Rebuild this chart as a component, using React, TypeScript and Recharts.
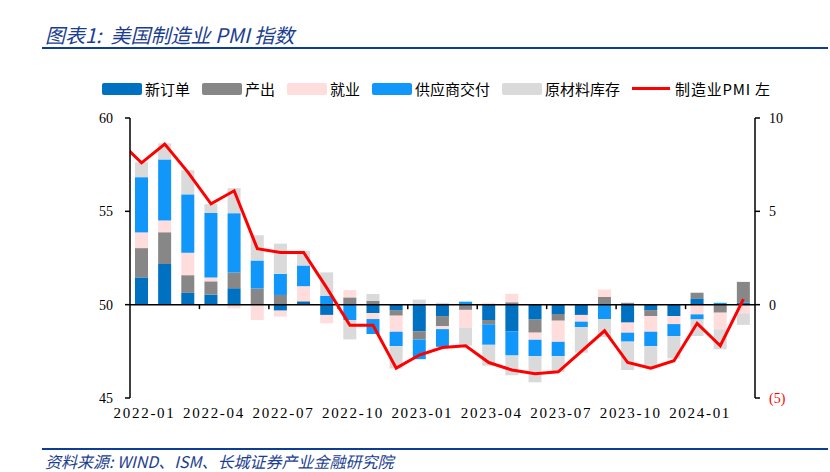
import { Bar, ComposedChart, Line, ReferenceLine, XAxis, YAxis } from "recharts"

// ISM 制造业PMI及分项贡献（分项拉动，右轴；PMI，左轴）
const months = [
  "2022-01", "2022-02", "2022-03", "2022-04", "2022-05", "2022-06",
  "2022-07", "2022-08", "2022-09", "2022-10", "2022-11", "2022-12",
  "2023-01", "2023-02", "2023-03", "2023-04", "2023-05", "2023-06",
  "2023-07", "2023-08", "2023-09", "2023-10", "2023-11", "2023-12",
  "2024-01", "2024-02", "2024-03",
]
// 折线在图左缘从上月接入
const prevMonth = "2021-12"
const prevPmi = 58.8

const newOrders = [
  1.46, 2.18, 0.63, 0.54, 0.88, 0, -0.32, 0.15, -0.55,
  0, -0.45, -0.29, -1.42, -0.61, -0.05, -0.82, -1.42, -0.8,
  -0.5, -0.55, 0, -0.96, -0.29, -0.61, 0.34, 0, 0.12,
]
const production = [
  1.57, 1.7, 0.95, 0.71, 0.84, 0.87, 0.52, 0.04, 0,
  0.39, 0.21, -0.3, -0.45, -0.54, -0.23, -0.23, 0.13, -0.7,
  -0.36, 0, 0.41, 0.1, -0.32, 0, 0.3, -0.43, 1.1,
]
const employment = [
  0.84, 0.63, 1.2, 0.21, -0.2, -0.82, -0.32, 0.8, -0.45,
  0.39, -0.32, -0.86, 0, -0.16, -0.95, 0.1, 0.46, -0.38,
  -1.13, -0.36, 0.4, -0.54, -0.84, -0.43, -0.52, -0.89, -0.46,
]
const supplierDeliveries = [
  2.96, 3.27, 3.13, 3.45, 3.18, 1.5, 1.13, 1.11, 0.48,
  -0.82, -0.8, -0.77, -1.05, -0.95, 0.16, -1.1, -1.3, -0.88,
  -0.77, -0.3, -0.77, -0.48, -0.77, -0.64, -0.27, 0.1, 0,
]
const inventories = [
  0.8, 0.86, 1.29, 0.48, 1.34, 1.35, 1.62, 0.79, 1.25,
  -1.04, 0.36, -1.2, 0.27, 0.1, -0.96, -1.12, -1.06, -1.4,
  -0.84, -1.36, -0.96, -1.52, -1.2, -1.2, -0.89, -1.07, -0.62,
]
const pmi = [
  57.6, 58.6, 57.1, 55.4, 56.1, 53.0, 52.8, 52.8, 50.9,
  48.9, 48.9, 46.6, 47.3, 47.7, 47.8, 46.9, 46.5, 46.3,
  46.4, 47.5, 48.6, 46.9, 46.6, 47.0, 49.0, 47.8, 50.3,
]

const xTicks = [0, 3, 6, 9, 12, 15, 18, 21, 24]
const leftTicks = [45, 50, 55, 60]
const rightTicks = [-5, 0, 5, 10]

const barSeries = [
  { key: "newOrders", name: "新订单" },
  { key: "production", name: "产出" },
  { key: "employment", name: "就业" },
  { key: "supplierDeliveries", name: "供应商交付" },
  { key: "inventories", name: "原材料库存" },
]
const lineName = "制造业PMI 左"

const colors: Record<string, string> = {
  newOrders: "#0070C0",
  production: "#878787",
  employment: "#FFDDDD",
  supplierDeliveries: "#1197FA",
  inventories: "#DADADA",
  pmi: "#FF0000",
}

const data = [
  { i: -1, month: prevMonth, pmi: prevPmi },
  ...months.map((month, i) => ({
    i,
    month,
    newOrders: newOrders[i],
    production: production[i],
    employment: employment[i],
    supplierDeliveries: supplierDeliveries[i],
    inventories: inventories[i],
    pmi: pmi[i],
  })),
]

// 每季度分界处的小刻度
const boundaryTicks = xTicks.slice(1).map((t) => t - 0.5)

const navy = "#1B3E91"
const serif = "'Liberation Serif', 'Times New Roman', serif"
const cjk = "'Noto Sans CJK SC', 'Noto Sans', sans-serif"

const MonthTick = ({ x, y, payload }: any) => (
  <text
    x={x + 3}
    y={y}
    dy={12}
    textAnchor="middle"
    fill="#000"
    fontSize={15}
    fontFamily={serif}
    letterSpacing={1.7}
  >
    {months[payload.value]}
  </text>
)

const RightTick = ({ x, y, payload }: any) => {
  const v = payload.value as number
  return (
    <text
      x={x}
      y={y}
      dy={5}
      textAnchor="start"
      fill={v < 0 ? "#FF0000" : "#000"}
      fontSize={14}
      fontFamily={serif}
    >
      {v < 0 ? `(${-v})` : v}
    </text>
  )
}

function LegendRow() {
  return (
    <div
      style={{
        position: "absolute",
        left: 102,
        top: 78,
        display: "flex",
        alignItems: "center",
        fontFamily: cjk,
        fontSize: 15,
        color: "#000",
        whiteSpace: "nowrap",
      }}
    >
      {barSeries.map((s) => (
        <div key={s.key} style={{ display: "flex", alignItems: "center", marginRight: 12 }}>
          <span
            style={{
              display: "inline-block",
              width: 40,
              height: 12,
              borderRadius: 2,
              background: colors[s.key],
              marginRight: 3,
            }}
          />
          <span>{s.name}</span>
        </div>
      ))}
      <div style={{ display: "flex", alignItems: "center" }}>
        <span
          style={{
            display: "inline-block",
            width: 38,
            height: 3,
            background: colors.pmi,
            marginRight: 5,
          }}
        />
        <span style={{ letterSpacing: 0.8 }}>{lineName}</span>
      </div>
    </div>
  )
}

export default function App() {
  return (
    <div
      style={{
        position: "absolute",
        left: 0,
        top: 0,
        width: 830,
        height: 472,
        background: "#fff",
      }}
    >
      <div
        style={{
          position: "absolute",
          left: 45,
          top: 22,
          fontFamily: cjk,
          fontStyle: "italic",
          fontSize: 20,
          lineHeight: "26px",
          color: navy,
          whiteSpace: "nowrap",
        }}
      >
        图表1:&nbsp;&nbsp;美国制造业 PMI 指数
      </div>
      <div style={{ position: "absolute", left: 42, top: 47, width: 786, height: 2, background: "#0D3E96" }} />

      <LegendRow />

      <div style={{ position: "absolute", left: 0, top: 0 }}>
        <ComposedChart
          width={830}
          height={472}
          data={data}
          stackOffset="sign"
          margin={{ top: 118, right: 15, bottom: 44, left: 70 }}
        >
          <XAxis
            dataKey="i"
            type="number"
            domain={[-0.5, 26.5]}
            allowDataOverflow
            ticks={xTicks}
            interval={0}
            axisLine={false}
            tickLine={false}
            height={30}
            tick={<MonthTick />}
          />
          <YAxis
            yAxisId="left"
            orientation="left"
            domain={[45, 60]}
            ticks={leftTicks}
            allowDataOverflow
            width={60}
            tickSize={5}
            tickMargin={12}
            axisLine={{ stroke: "#000", strokeWidth: 1.5 }}
            tickLine={{ stroke: "#000", strokeWidth: 1.5 }}
            tick={{ fill: "#000", fontSize: 14, fontFamily: serif }}
          />
          <YAxis
            yAxisId="right"
            orientation="right"
            domain={[-5, 10]}
            ticks={rightTicks}
            allowDataOverflow
            width={60}
            tickSize={5}
            tickMargin={9}
            axisLine={{ stroke: "#000", strokeWidth: 1.5 }}
            tickLine={{ stroke: "#000", strokeWidth: 1.5 }}
            tick={<RightTick />}
          />
          {barSeries.map((s) => (
            <Bar
              key={s.key}
              yAxisId="right"
              dataKey={s.key}
              name={s.name}
              stackId="pmi"
              fill={colors[s.key]}
              barSize={13}
              isAnimationActive={false}
            />
          ))}
          <ReferenceLine yAxisId="right" y={0} stroke="#000" strokeWidth={1.5} />
          {boundaryTicks.map((t) => (
            <ReferenceLine
              key={t}
              yAxisId="right"
              segment={[
                { x: t, y: 0 },
                { x: t, y: -0.24 },
              ]}
              stroke="#000"
              strokeWidth={1.5}
            />
          ))}
          <Line
            yAxisId="left"
            dataKey="pmi"
            name={lineName}
            type="linear"
            stroke={colors.pmi}
            strokeWidth={3}
            dot={false}
            activeDot={false}
            isAnimationActive={false}
          />
        </ComposedChart>
      </div>

      <div style={{ position: "absolute", left: 42, top: 448, width: 786, height: 2, background: "#0D3E96" }} />
      <div
        style={{
          position: "absolute",
          left: 45,
          top: 450,
          fontFamily: cjk,
          fontStyle: "italic",
          fontSize: 16,
          lineHeight: "22px",
          color: navy,
          whiteSpace: "nowrap",
        }}
      >
        资料来源: WIND、ISM、长城证券产业金融研究院
      </div>
    </div>
  )
}
